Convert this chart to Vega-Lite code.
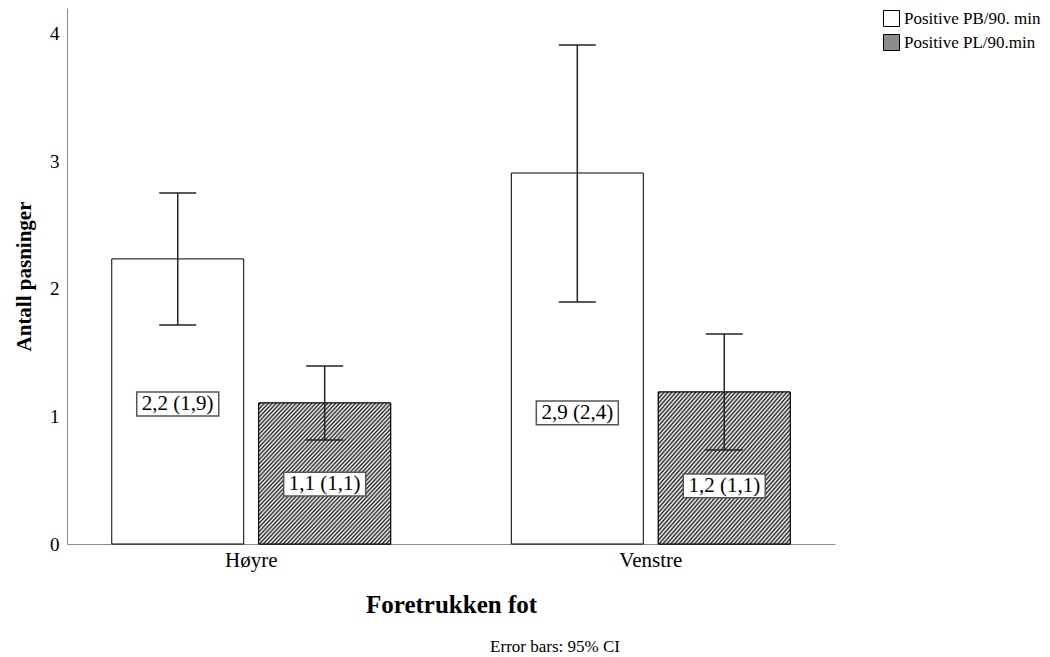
{
  "$schema": "https://vega.github.io/schema/vega-lite/v6.json",
  "width": 768,
  "height": 536,
  "autosize": {"type": "none"},
  "padding": {"left": 67, "top": 8, "right": 215, "bottom": 113},
  "background": "white",
  "title": {"text": "Error bars: 95% CI", "orient": "bottom", "anchor": "middle", "dx": 104, "offset": 22, "fontSize": 17, "font": "Liberation Serif", "fontWeight": "normal", "color": "black"},
  "data": {
    "values": [
      {"fot": "Høyre", "serie": "Positive PB/90. min", "mean": 2.234, "lo": 1.716, "hi": 2.75, "label": "2,2 (1,9)", "label_pos": 1.097},
      {"fot": "Høyre", "serie": "Positive PL/90.min", "mean": 1.105, "lo": 0.815, "hi": 1.395, "label": "1,1 (1,1)", "label_pos": 0.47},
      {"fot": "Venstre", "serie": "Positive PB/90. min", "mean": 2.907, "lo": 1.897, "hi": 3.91, "label": "2,9 (2,4)", "label_pos": 1.027},
      {"fot": "Venstre", "serie": "Positive PL/90.min", "mean": 1.191, "lo": 0.737, "hi": 1.646, "label": "1,2 (1,1)", "label_pos": 0.455}
    ]
  },
  "encoding": {
    "x": {
      "field": "fot", "type": "nominal", "title": "Foretrukken fot",
      "scale": {"paddingInner": 0.302, "paddingOuter": 0.112},
      "axis": {"labelAngle": 0, "labelFontSize": 21, "labelPadding": 5, "titleFontSize": 25, "titleFontWeight": "bold", "titlePadding": 22}
    },
    "xOffset": {"field": "serie", "type": "nominal", "scale": {"paddingInner": 0.102, "paddingOuter": 0}}
  },
  "layer": [
    {
      "mark": {"type": "bar", "strokeWidth": 1},
      "encoding": {
        "y": {
          "field": "mean", "type": "quantitative",
          "scale": {"domain": [0, 4.2], "nice": false},
          "axis": {"values": [0, 1, 2, 3, 4], "format": "d", "labelFontSize": 19, "labelPadding": 8, "title": "Antall pasninger", "titleFontSize": 21, "titleFontWeight": "bold", "titlePadding": 15}
        },
        "fill": {
          "field": "serie", "type": "nominal",
          "scale": {"range": ["white", "#8c8c8c"]},
          "legend": {
            "orient": "none", "legendX": 816, "legendY": 2, "title": null, "padding": 0,
            "symbolType": "square", "symbolSize": 256, "symbolStrokeWidth": 1, "symbolOpacity": 1,
            "labelFont": "Liberation Serif", "labelFontSize": 17, "labelColor": "black", "labelOffset": 4, "rowPadding": 3
          }
        },
        "stroke": {
          "field": "serie", "type": "nominal",
          "scale": {"range": ["black", "black"]},
          "legend": {
            "orient": "none", "legendX": 816, "legendY": 2, "title": null, "padding": 0,
            "symbolType": "square", "symbolSize": 256, "symbolStrokeWidth": 1, "symbolOpacity": 1,
            "labelFont": "Liberation Serif", "labelFontSize": 17, "labelColor": "black", "labelOffset": 4, "rowPadding": 3
          }
        }
      }
    },
    {
      "transform": [{"filter": "datum.serie === 'Positive PL/90.min'"}],
      "mark": {
        "type": "bar", "stroke": "black", "strokeWidth": 1,
        "fill": {"gradient": "linear", "x1": 0, "y1": 0, "x2": 1, "y2": 1, "stops": [
          {"offset": 0, "color": "#fff"}, {"offset": 0.0075, "color": "#222"}, {"offset": 0.015, "color": "#fff"}, {"offset": 0.0225, "color": "#222"},
          {"offset": 0.03, "color": "#fff"}, {"offset": 0.0375, "color": "#222"}, {"offset": 0.045, "color": "#fff"}, {"offset": 0.0525, "color": "#222"},
          {"offset": 0.06, "color": "#fff"}, {"offset": 0.0675, "color": "#222"}, {"offset": 0.075, "color": "#fff"}, {"offset": 0.0825, "color": "#222"},
          {"offset": 0.09, "color": "#fff"}, {"offset": 0.0975, "color": "#222"}, {"offset": 0.105, "color": "#fff"}, {"offset": 0.1125, "color": "#222"},
          {"offset": 0.12, "color": "#fff"}, {"offset": 0.1275, "color": "#222"}, {"offset": 0.135, "color": "#fff"}, {"offset": 0.1425, "color": "#222"},
          {"offset": 0.15, "color": "#fff"}, {"offset": 0.1575, "color": "#222"}, {"offset": 0.165, "color": "#fff"}, {"offset": 0.1725, "color": "#222"},
          {"offset": 0.18, "color": "#fff"}, {"offset": 0.1875, "color": "#222"}, {"offset": 0.195, "color": "#fff"}, {"offset": 0.2025, "color": "#222"},
          {"offset": 0.21, "color": "#fff"}, {"offset": 0.2175, "color": "#222"}, {"offset": 0.225, "color": "#fff"}, {"offset": 0.2325, "color": "#222"},
          {"offset": 0.24, "color": "#fff"}, {"offset": 0.2475, "color": "#222"}, {"offset": 0.255, "color": "#fff"}, {"offset": 0.2625, "color": "#222"},
          {"offset": 0.27, "color": "#fff"}, {"offset": 0.2775, "color": "#222"}, {"offset": 0.285, "color": "#fff"}, {"offset": 0.2925, "color": "#222"},
          {"offset": 0.3, "color": "#fff"}, {"offset": 0.3075, "color": "#222"}, {"offset": 0.315, "color": "#fff"}, {"offset": 0.3225, "color": "#222"},
          {"offset": 0.33, "color": "#fff"}, {"offset": 0.3375, "color": "#222"}, {"offset": 0.345, "color": "#fff"}, {"offset": 0.3525, "color": "#222"},
          {"offset": 0.36, "color": "#fff"}, {"offset": 0.3675, "color": "#222"}, {"offset": 0.375, "color": "#fff"}, {"offset": 0.3825, "color": "#222"},
          {"offset": 0.39, "color": "#fff"}, {"offset": 0.3975, "color": "#222"}, {"offset": 0.405, "color": "#fff"}, {"offset": 0.4125, "color": "#222"},
          {"offset": 0.42, "color": "#fff"}, {"offset": 0.4275, "color": "#222"}, {"offset": 0.435, "color": "#fff"}, {"offset": 0.4425, "color": "#222"},
          {"offset": 0.45, "color": "#fff"}, {"offset": 0.4575, "color": "#222"}, {"offset": 0.465, "color": "#fff"}, {"offset": 0.4725, "color": "#222"},
          {"offset": 0.48, "color": "#fff"}, {"offset": 0.4875, "color": "#222"}, {"offset": 0.495, "color": "#fff"}, {"offset": 0.5025, "color": "#222"},
          {"offset": 0.51, "color": "#fff"}, {"offset": 0.5175, "color": "#222"}, {"offset": 0.525, "color": "#fff"}, {"offset": 0.5325, "color": "#222"},
          {"offset": 0.54, "color": "#fff"}, {"offset": 0.5475, "color": "#222"}, {"offset": 0.555, "color": "#fff"}, {"offset": 0.5625, "color": "#222"},
          {"offset": 0.57, "color": "#fff"}, {"offset": 0.5775, "color": "#222"}, {"offset": 0.585, "color": "#fff"}, {"offset": 0.5925, "color": "#222"},
          {"offset": 0.6, "color": "#fff"}, {"offset": 0.6075, "color": "#222"}, {"offset": 0.615, "color": "#fff"}, {"offset": 0.6225, "color": "#222"},
          {"offset": 0.63, "color": "#fff"}, {"offset": 0.6375, "color": "#222"}, {"offset": 0.645, "color": "#fff"}, {"offset": 0.6525, "color": "#222"},
          {"offset": 0.66, "color": "#fff"}, {"offset": 0.6675, "color": "#222"}, {"offset": 0.675, "color": "#fff"}, {"offset": 0.6825, "color": "#222"},
          {"offset": 0.69, "color": "#fff"}, {"offset": 0.6975, "color": "#222"}, {"offset": 0.705, "color": "#fff"}, {"offset": 0.7125, "color": "#222"},
          {"offset": 0.72, "color": "#fff"}, {"offset": 0.7275, "color": "#222"}, {"offset": 0.735, "color": "#fff"}, {"offset": 0.7425, "color": "#222"},
          {"offset": 0.75, "color": "#fff"}, {"offset": 0.7575, "color": "#222"}, {"offset": 0.765, "color": "#fff"}, {"offset": 0.7725, "color": "#222"},
          {"offset": 0.78, "color": "#fff"}, {"offset": 0.7875, "color": "#222"}, {"offset": 0.795, "color": "#fff"}, {"offset": 0.8025, "color": "#222"},
          {"offset": 0.81, "color": "#fff"}, {"offset": 0.8175, "color": "#222"}, {"offset": 0.825, "color": "#fff"}, {"offset": 0.8325, "color": "#222"},
          {"offset": 0.84, "color": "#fff"}, {"offset": 0.8475, "color": "#222"}, {"offset": 0.855, "color": "#fff"}, {"offset": 0.8625, "color": "#222"},
          {"offset": 0.87, "color": "#fff"}, {"offset": 0.8775, "color": "#222"}, {"offset": 0.885, "color": "#fff"}, {"offset": 0.8925, "color": "#222"},
          {"offset": 0.9, "color": "#fff"}, {"offset": 0.9075, "color": "#222"}, {"offset": 0.915, "color": "#fff"}, {"offset": 0.9225, "color": "#222"},
          {"offset": 0.93, "color": "#fff"}, {"offset": 0.9375, "color": "#222"}, {"offset": 0.945, "color": "#fff"}, {"offset": 0.9525, "color": "#222"},
          {"offset": 0.96, "color": "#fff"}, {"offset": 0.9675, "color": "#222"}, {"offset": 0.975, "color": "#fff"}, {"offset": 0.9825, "color": "#222"},
          {"offset": 0.99, "color": "#fff"}, {"offset": 0.9975, "color": "#222"}
        ]}
      },
      "encoding": {"y": {"field": "mean", "type": "quantitative"}}
    },
    {
      "mark": {"type": "rule", "color": "#222", "strokeWidth": 1.5},
      "encoding": {"y": {"field": "lo", "type": "quantitative"}, "y2": {"field": "hi"}}
    },
    {
      "mark": {"type": "tick", "color": "#222", "thickness": 1.5, "size": 37, "opacity": 1},
      "encoding": {"y": {"field": "lo", "type": "quantitative"}}
    },
    {
      "mark": {"type": "tick", "color": "#222", "thickness": 1.5, "size": 37, "opacity": 1},
      "encoding": {"y": {"field": "hi", "type": "quantitative"}}
    },
    {
      "mark": {"type": "point", "shape": "M-1,-0.29L1,-0.29L1,0.29L-1,0.29Z", "size": 6724, "filled": true, "fill": "white", "stroke": "#555", "strokeWidth": 1.5, "opacity": 1, "strokeOpacity": 1},
      "encoding": {"y": {"field": "label_pos", "type": "quantitative"}}
    },
    {
      "mark": {"type": "text", "font": "Liberation Serif", "fontSize": 21, "color": "black"},
      "encoding": {"y": {"field": "label_pos", "type": "quantitative"}, "text": {"field": "label"}}
    }
  ],
  "config": {
    "view": {"stroke": null},
    "font": "Liberation Serif",
    "axis": {"labelFont": "Liberation Serif", "titleFont": "Liberation Serif", "labelColor": "black", "titleColor": "black", "domainColor": "#8c8c8c", "ticks": false, "grid": false}
  }
}
